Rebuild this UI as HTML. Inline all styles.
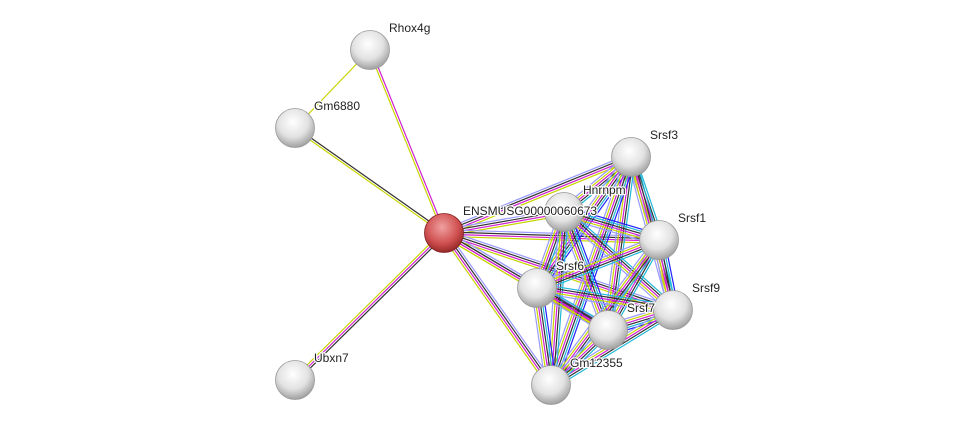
<!DOCTYPE html>
<html><head><meta charset="utf-8"><style>
html,body{margin:0;padding:0;background:#fff;}
svg{display:block;}
text{font-family:"Liberation Sans",sans-serif;font-size:12px;fill:#222;stroke:#fff;stroke-width:2.5px;paint-order:stroke;stroke-linejoin:round;}
</style></head><body>
<svg id="s" width="976" height="431" viewBox="0 0 976 431" xmlns="http://www.w3.org/2000/svg">
<defs>
<radialGradient id="g" cx="0.45" cy="0.35" r="0.7">
<stop offset="0" stop-color="#ffffff"/><stop offset="0.55" stop-color="#e2e2e2"/><stop offset="1" stop-color="#949494"/>
</radialGradient>
<radialGradient id="r" cx="0.45" cy="0.35" r="0.7">
<stop offset="0" stop-color="#f0a0a0"/><stop offset="0.6" stop-color="#d05050"/><stop offset="1" stop-color="#8a2020"/>
</radialGradient>
</defs>
<g id="edges"></g>
<g id="nodes"></g>
<g id="labels"></g>
</svg>
<script>
var N={
rh:[370,50,"Rhox4g"],gm:[295,128,"Gm6880"],en:[444,233,"ENSMUSG00000060673"],ub:[295,380,"Ubxn7"],
s3:[631,157,"Srsf3"],hn:[564,212,"Hnrnpm"],s1:[659,240,"Srsf1"],s6:[537,288,"Srsf6"],
s9:[673,310,"Srsf9"],s7:[608,330,"Srsf7"],g1:[551,385,"Gm12355"]};
var Y="#c8d400",M="#d020d0",K="#333333",L="#9999ff",C="#20b8d8",B="#2020ff";
var E=[["rh","gm",[Y]],["rh","en",[M,Y]],["gm","en",[K,Y]],["ub","en",[Y,M,K]]];
var cl=["s3","hn","s1","s6","s9","s7","g1"];
cl.forEach(function(c){E.push(["en",c,[L,K,M,Y]]);});
for(var i=0;i<cl.length;i++)for(var j=i+1;j<cl.length;j++){
 var cs=[C,K,M,Y,L]; if((i+j)%3==0)cs=[B,C,K,M,Y,L]; E.push([cl[i],cl[j],cs]);}
var ns="http://www.w3.org/2000/svg",eg=document.getElementById("edges"),ng=document.getElementById("nodes"),lg=document.getElementById("labels");
E.forEach(function(e){var a=N[e[0]],b=N[e[1]],dx=b[0]-a[0],dy=b[1]-a[1],l=Math.hypot(dx,dy),px=-dy/l,py=dx/l,n=e[2].length;
 e[2].forEach(function(col,k){var o=(k-(n-1)/2)*2.2;var ln=document.createElementNS(ns,"line");
 ln.setAttribute("x1",a[0]+px*o);ln.setAttribute("y1",a[1]+py*o);ln.setAttribute("x2",b[0]+px*o);ln.setAttribute("y2",b[1]+py*o);
 ln.setAttribute("stroke",col);ln.setAttribute("stroke-width","1.2");eg.appendChild(ln);});});
for(var k in N){var p=N[k];var c=document.createElementNS(ns,"circle");c.setAttribute("cx",p[0]);c.setAttribute("cy",p[1]);c.setAttribute("r",19.5);
 c.setAttribute("fill",k=="en"?"url(#r)":"url(#g)");c.setAttribute("stroke",k=="en"?"#802020":"#999");c.setAttribute("stroke-width","0.8");ng.appendChild(c);
 var t=document.createElementNS(ns,"text");t.setAttribute("x",p[0]+19);t.setAttribute("y",p[1]-18);t.textContent=p[2];lg.appendChild(t);}
</script>
</body></html>
